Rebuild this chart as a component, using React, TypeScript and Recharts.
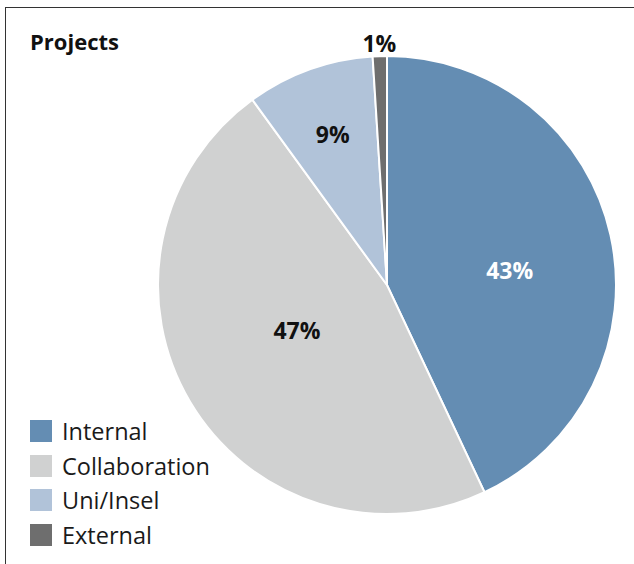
import React from 'react';
import { PieChart, Pie, Cell } from 'recharts';

// Project share by type
const CATEGORIES = ['Internal', 'Collaboration', 'Uni/Insel', 'External'];
const SHARES = [43, 47, 9, 1];
const COLORS = ['#648db3', '#d0d1d1', '#b1c3d9', '#6e6e6e'];
const LABEL_COLORS = ['#ffffff', '#111111', '#111111', '#111111'];

// label placement tweaks (radius factor, angle offset in deg)
const LABEL_RADIUS = [0.54, 0.44, 0.7, 1.057];
const LABEL_ANGLE_SHIFT = [-5.6, -4, 0, 0];

const data = CATEGORIES.map((name, i) => ({ name, value: SHARES[i] }));

const RAD = Math.PI / 180;
const FONT = "'Open Sans', sans-serif";

const renderLabel = (props: any) => {
  const { cx, cy, midAngle, outerRadius, index, value } = props;
  const r = outerRadius * LABEL_RADIUS[index];
  const a = (midAngle + LABEL_ANGLE_SHIFT[index]) * RAD;
  const x = cx + r * Math.cos(a);
  const y = cy - r * Math.sin(a);
  return (
    <text
      x={x}
      y={y}
      fill={LABEL_COLORS[index]}
      textAnchor="middle"
      dominantBaseline="central"
      fontFamily={FONT}
      fontWeight={700}
      fontSize={23}
    >
      {`${value}%`}
    </text>
  );
};

export default function App() {
  return (
    <div style={{ position: 'absolute', left: 0, top: 0, width: 634, height: 564, background: '#fff', overflow: 'hidden' }}>
      <div
        style={{
          position: 'absolute',
          left: 5,
          top: 7,
          width: 700,
          height: 700,
          borderLeft: '1.5px solid #333',
          borderTop: '1.5px solid #333',
        }}
      />
      <div
        style={{
          position: 'absolute',
          left: 30,
          top: 26,
          fontFamily: FONT,
          fontWeight: 700,
          fontSize: 22,
          color: '#111',
        }}
      >
        Projects
      </div>
      <div style={{ position: 'absolute', left: 0, top: 0 }}>
        <PieChart width={634} height={564} margin={{ top: 0, right: 0, bottom: 0, left: 0 }}>
          <Pie
            data={data}
            dataKey="value"
            nameKey="name"
            cx={387}
            cy={285}
            outerRadius={229}
            startAngle={90}
            endAngle={-270}
            stroke="#ffffff"
            strokeWidth={2}
            labelLine={false}
            label={renderLabel}
            isAnimationActive={false}
          >
            {data.map((entry, index) => (
              <Cell key={`cell-${index}`} fill={COLORS[index]} />
            ))}
          </Pie>
        </PieChart>
      </div>
      <div style={{ position: 'absolute', left: 30, top: 414, fontFamily: FONT }}>
        {data.map((d, i) => (
          <div key={d.name} style={{ display: 'flex', alignItems: 'center', height: 34.5 }}>
            <div style={{ width: 22, height: 22, background: COLORS[i], marginRight: 10 }} />
            <span style={{ fontSize: 23.5, color: '#1a1a1a' }}>{d.name}</span>
          </div>
        ))}
      </div>
    </div>
  );
}
